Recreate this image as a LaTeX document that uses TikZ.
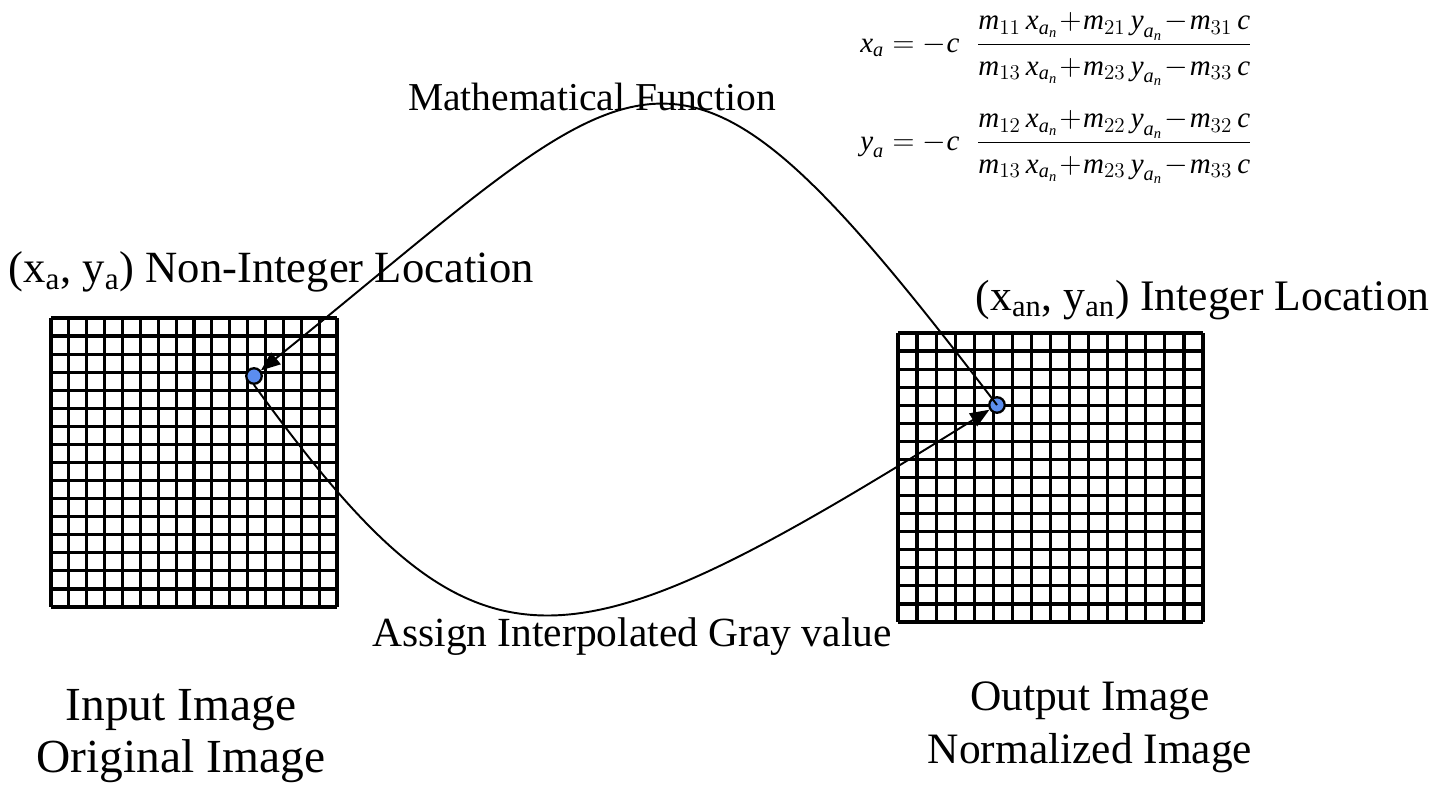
\documentclass[tikz,border=0pt]{standalone}
\usepackage{amsmath}
\usepackage{fontspec}
\setmainfont{Liberation Serif}
\usetikzlibrary{arrows.meta}
\definecolor{dotblue}{RGB}{91,141,239}
\newcommand{\mv}[1]{\textit{#1}}

\begin{document}
\begin{tikzpicture}[x=0.2mm, y=-0.2mm,
    gridline/.style={line width=1.8pt},
    pixdot/.style={circle, draw, line width=1.3pt, fill=dotblue, inner sep=0pt, minimum size=3.1mm},
    maparrow/.style={line width=1.1pt, -{Triangle[length=11pt,width=8.5pt]}},
    lbl/.style={font=\fontsize{#1}{27}\selectfont, inner sep=0pt},
    title/.style={font=\fontsize{#1}{30}\selectfont, align=center, inner sep=0pt},
    eq/.style={font=\fontsize{16.5}{20}\selectfont, inner sep=0pt}]
    \useasboundingbox (0,0) rectangle (1437,789);

    % 输入图像网格
    \foreach \i in {0,...,16} {
        \draw[gridline] ({51+\i*286/16},318) -- ({51+\i*286/16},607);
        \draw[gridline] (51,{318+\i*289/16}) -- (337,{318+\i*289/16});
    }

    % 输出图像网格
    \foreach \i in {0,...,16} {
        \draw[gridline] ({898+\i*305/16},333) -- ({898+\i*305/16},622);
        \draw[gridline] (898,{333+\i*289/16}) -- (1203,{333+\i*289/16});
    }

    % 像素点
    \node[pixdot] (dotIn) at (254,376) {};
    \node[pixdot] (dotOut) at (997,405) {};

    % 文字
    \node[lbl=25.4, anchor=west] (locIn) at (8,272) {(x\textsubscript{a}, y\textsubscript{a}) Non-Integer Location};
    \node[lbl=24.8, anchor=east] (locOut) at (1430,300) {(x\textsubscript{an}, y\textsubscript{an}) Integer Location};
    \node[lbl=22.5] (funcLbl) at (592,97) {Mathematical Function};
    \node[lbl=23.6] (grayLbl) at (632,637) {Assign Interpolated Gray value};
    \node[title=27] (inTitle) at (181,736) {Input Image\\Original Image};
    \node[title=24.7] (outTitle) at (1090,727) {Output Image\\Normalized Image};

    % 公式
    \medmuskip=1mu
    \node[eq, anchor=west] (eqX) at (860,49)
        {$\mv{x}_{\mv{a}} = -\mv{c}\;\;\dfrac{\mv{m}_{11}\,\mv{x}_{\mv{a}_{\mv{n}}} + \mv{m}_{21}\,\mv{y}_{\mv{a}_{\mv{n}}} - \mv{m}_{31}\,\mv{c}\rule[-5pt]{0pt}{0pt}}{\mv{m}_{13}\,\mv{x}_{\mv{a}_{\mv{n}}} + \mv{m}_{23}\,\mv{y}_{\mv{a}_{\mv{n}}} - \mv{m}_{33}\,\mv{c}\rule{0pt}{15pt}}$};
    \node[eq, anchor=west] (eqY) at (860,147)
        {$\mv{y}_{\mv{a}} = -\mv{c}\;\;\dfrac{\mv{m}_{12}\,\mv{x}_{\mv{a}_{\mv{n}}} + \mv{m}_{22}\,\mv{y}_{\mv{a}_{\mv{n}}} - \mv{m}_{32}\,\mv{c}\rule[-5pt]{0pt}{0pt}}{\mv{m}_{13}\,\mv{x}_{\mv{a}_{\mv{n}}} + \mv{m}_{23}\,\mv{y}_{\mv{a}_{\mv{n}}} - \mv{m}_{33}\,\mv{c}\rule{0pt}{15pt}}$};

    % 映射曲线
    \draw[maparrow] (dotOut.center) .. controls (667,-27) and (660,49) .. (dotIn);
    \draw[maparrow] (dotIn.south) .. controls (479,695) and (559,678) .. (dotOut);
\end{tikzpicture}
\end{document}
